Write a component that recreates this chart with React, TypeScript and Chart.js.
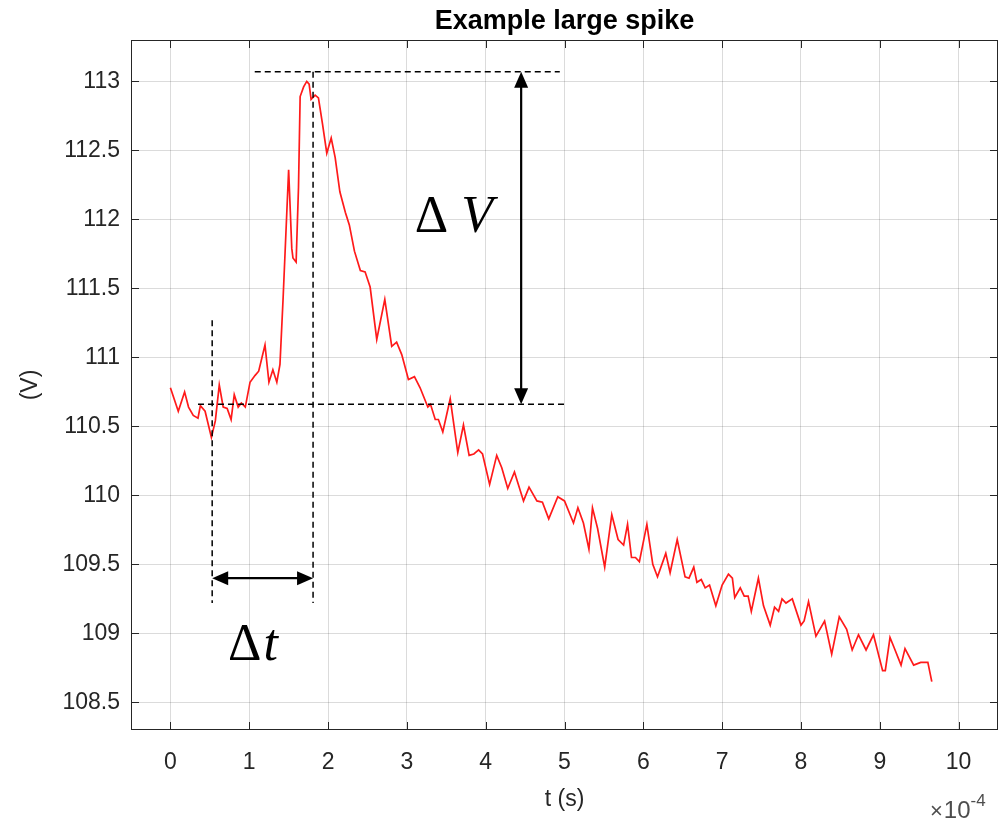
import { useEffect, useRef } from "react";
import { Chart, registerables } from "chart.js";

Chart.register(...registerables);

// time in units of 1e-4 s
const tValues = [
  0.0, 0.1, 0.18, 0.23, 0.29, 0.35, 0.38, 0.44, 0.52, 0.57, 0.62, 0.67, 0.72, 0.77, 0.81, 0.86, 0.9, 0.95,
  1.01, 1.075, 1.12, 1.2, 1.25, 1.3, 1.35, 1.39, 1.43, 1.5, 1.54, 1.555, 1.595, 1.625, 1.646, 1.69, 1.73,
  1.76, 1.785, 1.836, 1.878, 1.93, 1.984, 2.04, 2.09, 2.15, 2.22, 2.27, 2.335, 2.41, 2.47, 2.534, 2.618,
  2.72, 2.808, 2.87, 2.935, 3.02, 3.096, 3.168, 3.266, 3.3, 3.36, 3.4, 3.456, 3.55, 3.646, 3.718, 3.79,
  3.85, 3.91, 3.96, 4.05, 4.14, 4.204, 4.28, 4.365, 4.48, 4.55, 4.65, 4.72, 4.8, 4.915, 5.0, 5.114, 5.17,
  5.24, 5.31, 5.355, 5.42, 5.51, 5.6, 5.68, 5.75, 5.8, 5.85, 5.9, 5.95, 6.045, 6.12, 6.18, 6.285, 6.34,
  6.43, 6.53, 6.58, 6.64, 6.68, 6.735, 6.785, 6.84, 6.92, 7.0, 7.08, 7.13, 7.16, 7.23, 7.28, 7.33, 7.37,
  7.46, 7.525, 7.61, 7.665, 7.716, 7.76, 7.81, 7.89, 8.0, 8.04, 8.096, 8.19, 8.3, 8.39, 8.486, 8.58, 8.65,
  8.73, 8.826, 8.92, 9.036, 9.07, 9.13, 9.18, 9.27, 9.32, 9.43, 9.52, 9.61, 9.66,
];

const vValues = [
  110.78, 110.61, 110.75, 110.64, 110.58, 110.56, 110.65, 110.61, 110.42, 110.54, 110.8, 110.64, 110.63,
  110.55, 110.73, 110.64, 110.67, 110.64, 110.82, 110.87, 110.9, 111.09, 110.82, 110.91, 110.82, 110.95,
  111.43, 112.36, 111.79, 111.72, 111.69, 112.23, 112.89, 112.96, 113.0, 112.98, 112.87, 112.9, 112.88,
  112.69, 112.48, 112.59, 112.45, 112.2, 112.05, 111.96, 111.77, 111.63, 111.62, 111.51, 111.13, 111.42,
  111.08, 111.11, 111.02, 110.84, 110.86, 110.78, 110.64, 110.66, 110.55, 110.55, 110.46, 110.7, 110.31,
  110.51, 110.29, 110.3, 110.33, 110.3, 110.08, 110.29, 110.2, 110.05, 110.17, 109.96, 110.06, 109.96,
  109.95, 109.83, 109.99, 109.96, 109.8, 109.91, 109.8, 109.61, 109.91, 109.76, 109.48, 109.86, 109.68,
  109.64, 109.79, 109.55, 109.55, 109.52, 109.79, 109.5, 109.41, 109.58, 109.44, 109.68, 109.41, 109.4,
  109.48, 109.37, 109.39, 109.33, 109.35, 109.2, 109.35, 109.43, 109.4, 109.26, 109.33, 109.27, 109.27,
  109.16, 109.4, 109.2, 109.06, 109.19, 109.16, 109.25, 109.22, 109.25, 109.06, 109.09, 109.23, 108.98,
  109.09, 108.85, 109.12, 109.03, 108.88, 108.99, 108.88, 108.99, 108.73, 108.73, 108.97, 108.9, 108.77,
  108.89, 108.77, 108.79, 108.79, 108.65,
];

const xTicks = [0, 1, 2, 3, 4, 5, 6, 7, 8, 9, 10];
const yTicks = [108.5, 109, 109.5, 110, 110.5, 111, 111.5, 112, 112.5, 113];

const titleText = "Example large spike";
const xLabel = "t (s)";
const yLabel = "(V)";

// annotation geometry, in data units (t in 1e-4 s, V)
const dashedSegments = [
  [1.07, 113.07, 4.94, 113.07],
  [0.35, 110.66, 5.01, 110.66],
  [0.53, 111.27, 0.53, 109.22],
  [1.81, 113.07, 1.81, 109.22],
];
const arrowSegments = [
  [4.45, 113.07, 4.45, 110.66],
  [0.53, 109.4, 1.81, 109.4],
];

const FONT = '"Liberation Sans", Arial, Helvetica, sans-serif';
const SERIF = '"Liberation Serif", "DejaVu Serif", serif';

export default function App() {
  const ref = useRef<HTMLCanvasElement>(null);

  useEffect(() => {
    const canvas = ref.current;
    if (!canvas) return;

    const matlabPlugin = {
      id: "matlabDecor",
      afterDraw(chart: any) {
        const { ctx, chartArea } = chart;
        const { left, right, top, bottom } = chartArea;
        const xs = chart.scales.x;
        const ys = chart.scales.y;
        ctx.save();

        // box
        ctx.strokeStyle = "#262626";
        ctx.lineWidth = 1;
        ctx.setLineDash([]);
        ctx.strokeRect(left + 0.5, top + 0.5, right - left - 1, bottom - top - 1);

        // inward ticks
        const tl = 8;
        ctx.beginPath();
        xTicks.forEach((v) => {
          const px = Math.round(xs.getPixelForValue(v)) + 0.5;
          ctx.moveTo(px, bottom);
          ctx.lineTo(px, bottom - tl);
          ctx.moveTo(px, top);
          ctx.lineTo(px, top + tl);
        });
        yTicks.forEach((v) => {
          const py = Math.round(ys.getPixelForValue(v)) + 0.5;
          ctx.moveTo(left, py);
          ctx.lineTo(left + tl, py);
          ctx.moveTo(right, py);
          ctx.lineTo(right - tl, py);
        });
        ctx.stroke();

        // title
        ctx.fillStyle = "#000";
        ctx.textAlign = "center";
        ctx.textBaseline = "middle";
        ctx.font = `bold 27px ${FONT}`;
        ctx.fillText(titleText, (left + right) / 2, 22);

        // axis titles
        ctx.fillStyle = "#262626";
        ctx.font = `23px ${FONT}`;
        ctx.fillText(xLabel, (left + right) / 2, 800);
        ctx.save();
        ctx.translate(31, (top + bottom) / 2);
        ctx.rotate(-Math.PI / 2);
        ctx.fillText(yLabel, 0, 0);
        ctx.restore();

        // exponent label  ×10^-4
        ctx.textAlign = "left";
        ctx.textBaseline = "alphabetic";
        ctx.fillStyle = "#4d4d4d";
        let ex = 930;
        ctx.font = `22px ${FONT}`;
        ctx.fillText("\u00d7", ex, 818);
        ex += ctx.measureText("\u00d7").width + 1;
        ctx.font = `24px ${FONT}`;
        ctx.fillText("10", ex, 818);
        ex += ctx.measureText("10").width;
        ctx.font = `17px ${FONT}`;
        ctx.fillText("-4", ex, 806);

        // dashed lines
        ctx.strokeStyle = "#000";
        ctx.lineWidth = 1.5;
        ctx.setLineDash([6, 4]);
        dashedSegments.forEach(([x1, y1, x2, y2]) => {
          ctx.beginPath();
          ctx.moveTo(xs.getPixelForValue(x1), ys.getPixelForValue(y1));
          ctx.lineTo(xs.getPixelForValue(x2), ys.getPixelForValue(y2));
          ctx.stroke();
        });
        ctx.setLineDash([]);

        // double arrows
        ctx.lineWidth = 2.2;
        ctx.fillStyle = "#000";
        const head = (px: number, py: number, ang: number) => {
          const L = 16;
          const W = 7;
          ctx.beginPath();
          ctx.moveTo(px, py);
          ctx.lineTo(px - L * Math.cos(ang) + W * Math.sin(ang), py - L * Math.sin(ang) - W * Math.cos(ang));
          ctx.lineTo(px - L * Math.cos(ang) - W * Math.sin(ang), py - L * Math.sin(ang) + W * Math.cos(ang));
          ctx.closePath();
          ctx.fill();
        };
        arrowSegments.forEach(([x1, y1, x2, y2]) => {
          const p1x = xs.getPixelForValue(x1);
          const p1y = ys.getPixelForValue(y1);
          const p2x = xs.getPixelForValue(x2);
          const p2y = ys.getPixelForValue(y2);
          const ang = Math.atan2(p2y - p1y, p2x - p1x);
          ctx.beginPath();
          ctx.moveTo(p1x + 10 * Math.cos(ang), p1y + 10 * Math.sin(ang));
          ctx.lineTo(p2x - 10 * Math.cos(ang), p2y - 10 * Math.sin(ang));
          ctx.stroke();
          head(p2x, p2y, ang);
          head(p1x, p1y, ang + Math.PI);
        });

        // delta labels
        ctx.fillStyle = "#000";
        ctx.textAlign = "left";
        ctx.textBaseline = "alphabetic";
        const dvx = xs.getPixelForValue(3.1);
        const dvy = ys.getPixelForValue(111.91);
        ctx.font = `52px ${SERIF}`;
        ctx.fillText("\u0394", dvx, dvy);
        const dw = ctx.measureText("\u0394 ").width;
        ctx.font = `italic 52px ${SERIF}`;
        ctx.fillText("V", dvx + dw, dvy);

        const dtx = xs.getPixelForValue(0.73);
        const dty = ys.getPixelForValue(108.81);
        ctx.font = `52px ${SERIF}`;
        ctx.fillText("\u0394", dtx, dty);
        const dw2 = ctx.measureText("\u0394").width;
        ctx.font = `italic 52px ${SERIF}`;
        ctx.fillText("t", dtx + dw2 + 2, dty);

        ctx.restore();
      },
    };

    const chart = new Chart(canvas, {
      type: "line",
      data: {
        datasets: [
          {
            data: tValues.map((t, i) => ({ x: t, y: vValues[i] })),
            borderColor: "#ff1a1a",
            borderWidth: 1.7,
            pointRadius: 0,
            tension: 0,
            fill: false,
          },
        ],
      },
      options: {
        animation: false,
        responsive: false,
        devicePixelRatio: 1,
        layout: { padding: { top: 40, right: 2, left: 0, bottom: 0 } },
        plugins: {
          legend: { display: false },
          title: { display: false },
          tooltip: { enabled: false },
        },
        scales: {
          x: {
            type: "linear",
            min: -0.5,
            max: 10.5,
            afterBuildTicks: (scale: any) => {
              scale.ticks = xTicks.map((v) => ({ value: v }));
            },
            afterFit: (scale: any) => {
              scale.height = 90;
            },
            grid: { color: "rgba(0,0,0,0.14)", drawTicks: false, lineWidth: 1 },
            border: { display: false },
            ticks: {
              color: "#262626",
              font: { family: FONT, size: 23 },
              padding: 19,
              maxRotation: 0,
              autoSkip: false,
              callback: (v: any) => String(v),
            },
          },
          y: {
            type: "linear",
            min: 108.3,
            max: 113.3,
            afterBuildTicks: (scale: any) => {
              scale.ticks = yTicks.map((v) => ({ value: v }));
            },
            afterFit: (scale: any) => {
              scale.width = 131;
            },
            grid: { color: "rgba(0,0,0,0.14)", drawTicks: false, lineWidth: 1 },
            border: { display: false },
            ticks: {
              color: "#262626",
              font: { family: FONT, size: 23 },
              padding: 11,
              autoSkip: false,
              callback: (v: any) => String(v),
            },
          },
        },
      },
      plugins: [matlabPlugin],
    });

    return () => chart.destroy();
  }, []);

  return (
    <div style={{ position: "absolute", left: 0, top: 0, width: 1000, height: 820, background: "#fff" }}>
      <canvas ref={ref} width={1000} height={820} style={{ display: "block" }} />
    </div>
  );
}
